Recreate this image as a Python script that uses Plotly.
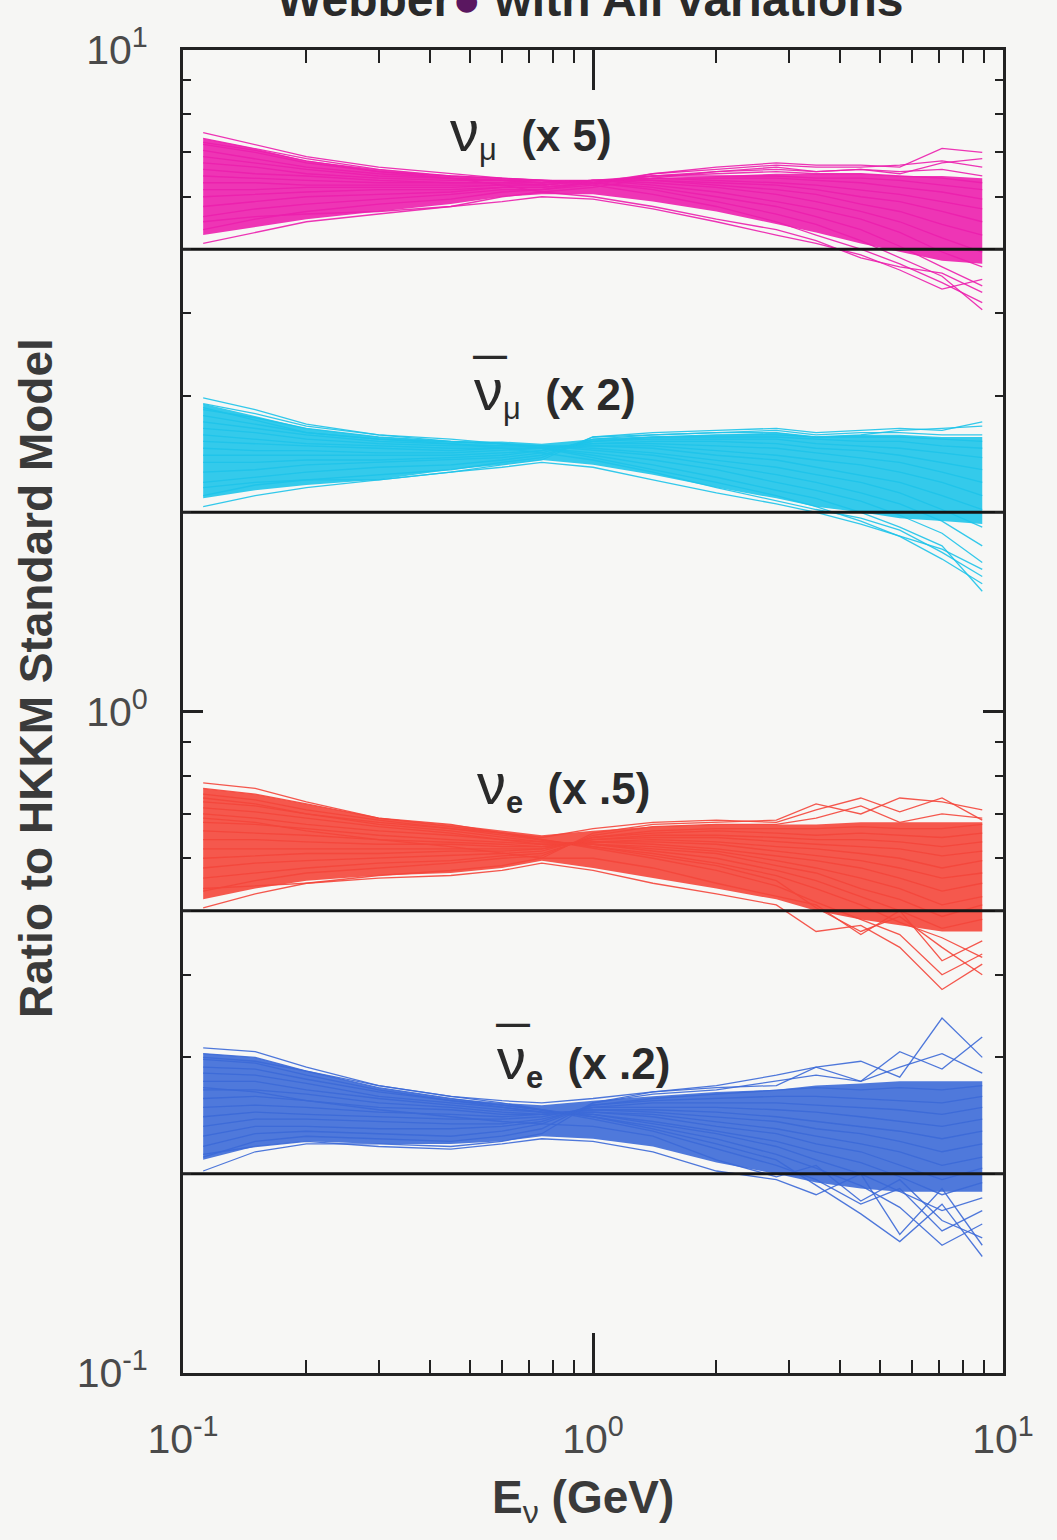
import plotly.graph_objects as go

# ---------------- data ----------------
energy = [0.112, 0.15, 0.2, 0.3, 0.45, 0.6, 0.75, 1.0, 1.4, 2.0, 2.8, 3.5, 4.5, 5.6, 7.1, 8.9]

tick_vals = [0.1, 1, 10]
tick_text = ["10<sup>-1</sup>", "10<sup>0</sup>", "10<sup>1</sup>"]
minor_vals = [0.2, 0.3, 0.4, 0.5, 0.6, 0.7, 0.8, 0.9, 2, 3, 4, 5, 6, 7, 8, 9]

flavours = ["numu", "numubar", "nue", "nuebar"]
scale = {"numu": 5.0, "numubar": 2.0, "nue": 0.5, "nuebar": 0.2}
colors = {"numu": "#EC1FAE", "numubar": "#1EC4EA", "nue": "#F4463B", "nuebar": "#3C6AD8"}
NU = "<span style='font-size:58px'>ν</span>"
labels = {
    "numu": NU + "<sub>μ</sub>  <b>(x 5)</b>",
    "numubar": NU + "<sub>μ</sub>  <b>(x 2)</b>",
    "nue": NU + "<sub><b>e</b></sub>  <b>(x .5)</b>",
    "nuebar": NU + "<sub><b>e</b></sub>  <b>(x .2)</b>",
}
antineutrino = {"numu": False, "numubar": True, "nue": False, "nuebar": True}

# ratio to HKKM (before the display factor), one list per variation
numu_lines = [
    [1.50,1.44,1.38,1.33,1.30,1.28,1.27,1.25,1.21,1.16,1.10,1.05,1.00,0.95,0.89,0.83],
    [1.47,1.42,1.37,1.32,1.29,1.28,1.27,1.26,1.23,1.18,1.13,1.09,1.03,0.97,0.91,0.81],
    [1.44,1.40,1.35,1.31,1.29,1.28,1.27,1.26,1.24,1.20,1.16,1.12,1.07,1.01,0.94,0.88],
    [1.41,1.37,1.33,1.30,1.28,1.27,1.27,1.27,1.25,1.22,1.18,1.15,1.11,1.06,0.99,0.94],
    [1.38,1.35,1.32,1.29,1.28,1.27,1.26,1.27,1.26,1.24,1.21,1.18,1.14,1.10,1.04,0.99],
    [1.35,1.33,1.30,1.28,1.27,1.27,1.26,1.27,1.27,1.25,1.23,1.21,1.17,1.14,1.09,1.05],
    [1.32,1.30,1.29,1.27,1.26,1.26,1.26,1.27,1.27,1.26,1.25,1.23,1.20,1.18,1.14,1.10],
    [1.29,1.28,1.27,1.26,1.26,1.26,1.25,1.27,1.28,1.27,1.26,1.25,1.23,1.21,1.18,1.15],
    [1.26,1.26,1.25,1.25,1.25,1.25,1.25,1.27,1.28,1.28,1.28,1.27,1.26,1.24,1.22,1.19],
    [1.23,1.23,1.24,1.24,1.24,1.25,1.25,1.27,1.29,1.29,1.29,1.28,1.28,1.27,1.25,1.23],
    [1.20,1.21,1.22,1.23,1.23,1.24,1.24,1.26,1.29,1.30,1.31,1.30,1.30,1.29,1.28,1.26],
    [1.16,1.18,1.20,1.21,1.22,1.24,1.24,1.26,1.29,1.31,1.32,1.31,1.32,1.31,1.32,1.29],
    [1.12,1.15,1.17,1.19,1.21,1.23,1.23,1.26,1.30,1.32,1.34,1.33,1.33,1.34,1.36,1.33],
    [1.07,1.11,1.14,1.17,1.19,1.22,1.23,1.25,1.30,1.33,1.35,1.34,1.34,1.33,1.42,1.40],
    [1.02,1.06,1.10,1.13,1.16,1.20,1.22,1.24,1.28,1.31,1.33,1.31,1.32,1.30,1.35,1.37],
    [1.10,1.12,1.13,1.14,1.16,1.18,1.20,1.19,1.15,1.10,1.05,1.02,0.98,0.93,0.87,0.90],
    [1.45,1.41,1.36,1.31,1.28,1.25,1.22,1.20,1.16,1.11,1.07,1.03,0.97,0.94,0.92,0.86],
]
numubar_lines = [
    [1.49,1.43,1.36,1.31,1.29,1.27,1.25,1.21,1.16,1.11,1.06,1.02,0.97,0.92,0.85,0.78],
    [1.46,1.41,1.35,1.31,1.28,1.27,1.25,1.22,1.18,1.13,1.08,1.05,1.00,0.95,0.89,0.76],
    [1.43,1.39,1.34,1.30,1.28,1.27,1.25,1.23,1.20,1.16,1.11,1.08,1.04,0.99,0.93,0.84],
    [1.40,1.36,1.32,1.29,1.28,1.27,1.26,1.24,1.22,1.18,1.14,1.11,1.07,1.03,0.97,0.89],
    [1.37,1.34,1.31,1.28,1.27,1.26,1.26,1.25,1.23,1.20,1.17,1.14,1.11,1.07,1.01,0.95],
    [1.34,1.32,1.29,1.27,1.26,1.26,1.26,1.26,1.25,1.22,1.20,1.17,1.14,1.11,1.06,1.01],
    [1.31,1.29,1.27,1.26,1.25,1.25,1.25,1.26,1.26,1.24,1.22,1.20,1.18,1.15,1.11,1.06],
    [1.28,1.27,1.26,1.25,1.24,1.25,1.25,1.27,1.27,1.26,1.25,1.23,1.21,1.19,1.15,1.11],
    [1.25,1.24,1.24,1.23,1.23,1.24,1.25,1.27,1.28,1.28,1.27,1.25,1.24,1.22,1.19,1.16],
    [1.22,1.22,1.22,1.22,1.22,1.23,1.24,1.28,1.29,1.29,1.29,1.27,1.26,1.25,1.23,1.21],
    [1.19,1.19,1.20,1.20,1.21,1.22,1.24,1.28,1.30,1.30,1.30,1.29,1.28,1.28,1.26,1.25],
    [1.15,1.16,1.18,1.19,1.20,1.21,1.23,1.29,1.30,1.31,1.31,1.30,1.30,1.30,1.29,1.28],
    [1.11,1.13,1.15,1.17,1.18,1.20,1.22,1.29,1.31,1.32,1.33,1.31,1.32,1.32,1.31,1.31],
    [1.06,1.10,1.12,1.14,1.16,1.19,1.21,1.30,1.32,1.33,1.34,1.32,1.33,1.34,1.33,1.37],
    [1.02,1.06,1.09,1.12,1.15,1.18,1.20,1.30,1.31,1.32,1.32,1.30,1.31,1.33,1.34,1.35],
    [1.09,1.11,1.12,1.12,1.15,1.17,1.19,1.17,1.12,1.07,1.03,1.00,0.96,0.92,0.88,0.82],
    [1.44,1.38,1.32,1.29,1.27,1.25,1.23,1.20,1.15,1.09,1.04,1.01,0.98,0.94,0.87,0.80],
]
nue_lines = [
    [1.56,1.53,1.46,1.38,1.35,1.31,1.28,1.24,1.20,1.15,1.09,1.03,0.97,0.92,0.80,0.86],
    [1.53,1.50,1.45,1.38,1.34,1.31,1.28,1.25,1.21,1.17,1.11,1.01,0.93,0.98,0.88,0.80],
    [1.50,1.47,1.42,1.37,1.33,1.30,1.28,1.25,1.22,1.18,1.13,1.08,1.02,0.96,0.91,0.85],
    [1.46,1.44,1.40,1.35,1.32,1.29,1.27,1.26,1.23,1.20,1.15,1.11,1.05,1.00,0.94,0.97],
    [1.43,1.41,1.38,1.34,1.31,1.28,1.27,1.26,1.24,1.22,1.17,1.14,1.08,1.04,0.98,1.02],
    [1.40,1.38,1.35,1.32,1.30,1.28,1.26,1.26,1.25,1.23,1.19,1.16,1.12,1.08,1.02,1.05],
    [1.36,1.35,1.33,1.30,1.28,1.27,1.26,1.27,1.26,1.24,1.21,1.19,1.16,1.12,1.07,1.10],
    [1.32,1.31,1.30,1.28,1.27,1.26,1.25,1.27,1.27,1.26,1.23,1.21,1.19,1.16,1.12,1.14],
    [1.28,1.28,1.27,1.26,1.26,1.25,1.25,1.27,1.28,1.27,1.25,1.24,1.22,1.20,1.16,1.19],
    [1.24,1.24,1.24,1.24,1.24,1.24,1.24,1.28,1.29,1.29,1.27,1.26,1.25,1.24,1.21,1.23],
    [1.20,1.21,1.22,1.22,1.23,1.23,1.24,1.28,1.30,1.30,1.29,1.28,1.28,1.27,1.25,1.27],
    [1.16,1.18,1.19,1.20,1.21,1.22,1.23,1.29,1.31,1.32,1.31,1.30,1.31,1.30,1.29,1.31],
    [1.12,1.14,1.16,1.18,1.19,1.21,1.22,1.29,1.32,1.33,1.33,1.33,1.34,1.33,1.33,1.35],
    [1.07,1.11,1.14,1.16,1.18,1.20,1.21,1.30,1.34,1.35,1.35,1.38,1.44,1.36,1.40,1.38],
    [1.01,1.06,1.10,1.13,1.15,1.17,1.20,1.31,1.35,1.36,1.37,1.45,1.40,1.48,1.46,1.42],
    [1.08,1.09,1.10,1.12,1.13,1.15,1.18,1.15,1.10,1.06,1.02,0.93,0.95,0.88,0.76,0.83],
    [1.48,1.45,1.40,1.36,1.33,1.31,1.29,1.33,1.36,1.37,1.36,1.42,1.48,1.41,1.48,1.37],
    [1.38,1.36,1.32,1.28,1.25,1.22,1.20,1.20,1.16,1.10,1.05,1.02,0.92,1.00,0.84,0.90],
]
nuebar_lines = [
    [1.55,1.53,1.45,1.36,1.31,1.28,1.25,1.21,1.16,1.09,1.03,0.98,0.90,0.95,0.82,0.88],
    [1.52,1.50,1.43,1.35,1.30,1.27,1.25,1.22,1.17,1.11,1.05,0.96,0.87,0.79,0.90,0.75],
    [1.49,1.47,1.41,1.34,1.29,1.27,1.25,1.22,1.18,1.13,1.07,1.02,0.96,0.89,0.78,0.84],
    [1.45,1.44,1.39,1.33,1.29,1.26,1.24,1.23,1.19,1.15,1.10,1.05,1.00,0.94,0.88,0.92],
    [1.42,1.41,1.37,1.31,1.28,1.26,1.24,1.23,1.20,1.16,1.12,1.08,1.04,0.99,0.93,0.97],
    [1.38,1.38,1.34,1.30,1.27,1.25,1.24,1.24,1.22,1.18,1.15,1.11,1.08,1.03,0.98,1.02],
    [1.34,1.34,1.32,1.28,1.26,1.24,1.23,1.24,1.23,1.20,1.17,1.14,1.11,1.08,1.03,1.06],
    [1.30,1.31,1.29,1.26,1.25,1.23,1.23,1.25,1.24,1.22,1.20,1.17,1.15,1.12,1.08,1.11],
    [1.26,1.27,1.26,1.24,1.23,1.22,1.23,1.25,1.25,1.24,1.22,1.20,1.18,1.16,1.13,1.16],
    [1.22,1.24,1.23,1.22,1.21,1.21,1.22,1.26,1.26,1.26,1.25,1.24,1.22,1.20,1.18,1.21],
    [1.18,1.21,1.21,1.20,1.19,1.19,1.21,1.26,1.28,1.28,1.28,1.27,1.26,1.25,1.23,1.26],
    [1.14,1.18,1.18,1.17,1.17,1.18,1.20,1.27,1.29,1.30,1.31,1.31,1.30,1.29,1.28,1.31],
    [1.10,1.15,1.16,1.15,1.14,1.16,1.19,1.27,1.30,1.32,1.34,1.35,1.34,1.35,1.34,1.36],
    [1.06,1.12,1.14,1.13,1.12,1.14,1.17,1.28,1.32,1.34,1.38,1.41,1.38,1.45,1.52,1.42],
    [1.01,1.08,1.11,1.11,1.10,1.12,1.15,1.28,1.33,1.36,1.41,1.45,1.48,1.40,1.72,1.50],
    [1.07,1.10,1.12,1.10,1.09,1.11,1.13,1.12,1.08,1.01,0.98,0.93,1.00,0.81,0.95,0.78],
    [1.50,1.48,1.43,1.36,1.31,1.29,1.28,1.30,1.33,1.35,1.36,1.45,1.38,1.53,1.44,1.61],
    [1.35,1.33,1.29,1.25,1.22,1.20,1.19,1.18,1.14,1.05,0.99,1.03,0.91,0.98,0.85,0.80],
]

# dense core of each bundle (where the variations overlap solidly)
numu_core_hi = [1.47,1.42,1.36,1.32,1.29,1.28,1.27,1.27,1.28,1.29,1.30,1.30,1.30,1.29,1.29,1.28]
numu_core_lo = [1.05,1.08,1.11,1.14,1.17,1.20,1.21,1.21,1.18,1.14,1.09,1.06,1.02,0.99,0.96,0.95]
numubar_core_hi = [1.46,1.40,1.34,1.30,1.28,1.28,1.27,1.29,1.30,1.31,1.32,1.30,1.31,1.31,1.30,1.30]
numubar_core_lo = [1.05,1.08,1.10,1.12,1.16,1.18,1.20,1.18,1.14,1.09,1.05,1.02,1.00,0.98,0.97,0.96]
nue_core_hi = [1.53,1.50,1.45,1.38,1.35,1.32,1.30,1.32,1.34,1.35,1.35,1.35,1.36,1.36,1.36,1.36]
nue_core_lo = [1.04,1.08,1.11,1.13,1.14,1.16,1.19,1.16,1.12,1.08,1.04,1.00,0.97,0.95,0.93,0.93]
nuebar_core_hi = [1.52,1.50,1.43,1.35,1.30,1.28,1.27,1.29,1.31,1.33,1.34,1.36,1.37,1.38,1.38,1.38]
nuebar_core_lo = [1.05,1.10,1.12,1.11,1.11,1.12,1.14,1.13,1.10,1.04,1.00,0.97,0.95,0.94,0.94,0.94]

lines = {"numu": numu_lines, "numubar": numubar_lines, "nue": nue_lines, "nuebar": nuebar_lines}
cores = {
    "numu": (numu_core_hi, numu_core_lo),
    "numubar": (numubar_core_hi, numubar_core_lo),
    "nue": (nue_core_hi, nue_core_lo),
    "nuebar": (nuebar_core_hi, nuebar_core_lo),
}
reference_ratio = 1.0
x_span = [0.1, 10]

# ---------------- figure ----------------
def rgba(hexcol, a):
    h = hexcol.lstrip("#")
    return "rgba(%d,%d,%d,%.2f)" % (int(h[0:2], 16), int(h[2:4], 16), int(h[4:6], 16), a)

fig = go.Figure()
for f in flavours:
    k = scale[f]
    hi, lo = cores[f]
    fig.add_trace(go.Scatter(x=energy, y=[v * k for v in lo], mode="lines",
                             line=dict(width=0, color=colors[f]), hoverinfo="skip", showlegend=False))
    fig.add_trace(go.Scatter(x=energy, y=[v * k for v in hi], mode="lines", fill="tonexty",
                             fillcolor=rgba(colors[f], 0.90),
                             line=dict(width=0, color=colors[f]), hoverinfo="skip", showlegend=False))
    for ln in lines[f]:
        fig.add_trace(go.Scatter(x=energy, y=[v * k for v in ln], mode="lines",
                                 line=dict(width=1.3, color=colors[f]), opacity=0.9,
                                 showlegend=False))

for f in flavours:
    k = scale[f]
    fig.add_trace(go.Scatter(x=x_span, y=[reference_ratio * k] * 2, mode="lines",
                             line=dict(width=3, color="#151515"), showlegend=False, cliponaxis=True))

font_fam = "Liberation Sans, Arial, Helvetica, sans-serif"
axis_common = dict(
    type="log", range=[-1, 1], showgrid=False, zeroline=False,
    showline=True, linecolor="#222", linewidth=3, mirror="ticks",
    ticks="inside", tickcolor="#222", tickwidth=2.5,
    tickmode="array", tickvals=tick_vals, ticktext=tick_text,
    tickfont=dict(family=font_fam, size=41, color="#4a4a4a"),
    ticklabeloverflow="allow",
)
fig.update_xaxes(**axis_common, ticklen=40, ticklabelstandoff=28,
                 minor=dict(tickvals=minor_vals, ticks="inside", ticklen=13, tickwidth=2, tickcolor="#222"))
fig.update_yaxes(**axis_common, ticklen=20, ticklabelstandoff=24,
                 minor=dict(tickvals=minor_vals, ticks="inside", ticklen=8, tickwidth=2, tickcolor="#222"))

# px -> paper helpers for annotation placement
def px_x(px):
    return (px - 183) / 820.0

def px_y(py):
    return (1373 - py) / 1323.0

ann = []
label_start = {"numu": (448, 132), "numubar": (472, 392), "nue": (475, 785), "nuebar": (495, 1060)}
for f in flavours:
    x0, y0 = label_start[f]
    ann.append(dict(xref="paper", yref="paper", x=px_x(x0), y=px_y(y0), xanchor="left", yanchor="middle",
                    text=labels[f], showarrow=False,
                    font=dict(family=font_fam, size=44, color="#2a2a2a")))
    if antineutrino[f]:
        ann.append(dict(xref="paper", yref="paper", x=px_x(x0 + 18), y=px_y(y0 - 38),
                        xanchor="center", yanchor="middle", text="<b>—</b>", showarrow=False,
                        font=dict(family=font_fam, size=34, color="#2a2a2a")))
ann.append(dict(xref="paper", yref="paper", x=px_x(590), y=px_y(28), xanchor="center", yanchor="bottom",
                text="<b>Webber<span style='color:#5a1760'>●</span> with All variations</b>",
                showarrow=False, font=dict(family=font_fam, size=48, color="#2a2a2a")))
ann.append(dict(xref="paper", yref="paper", x=px_x(36), y=px_y(678), xanchor="center", yanchor="middle",
                textangle=-90, text="<b>Ratio to HKKM Standard Model</b>", showarrow=False,
                font=dict(family=font_fam, size=46, color="#3a3a3a")))
ann.append(dict(xref="paper", yref="paper", x=px_x(583), y=px_y(1500), xanchor="center", yanchor="middle",
                text="<b>E</b><sub>ν</sub><b> (GeV)</b>", showarrow=False,
                font=dict(family=font_fam, size=46, color="#3a3a3a")))

fig.update_layout(
    width=1057, height=1540,
    margin=dict(l=183, r=54, t=50, b=167),
    paper_bgcolor="#F6F6F4", plot_bgcolor="#F7F7F5",
    annotations=ann, showlegend=False,
)

fig.write_html("out.html")
